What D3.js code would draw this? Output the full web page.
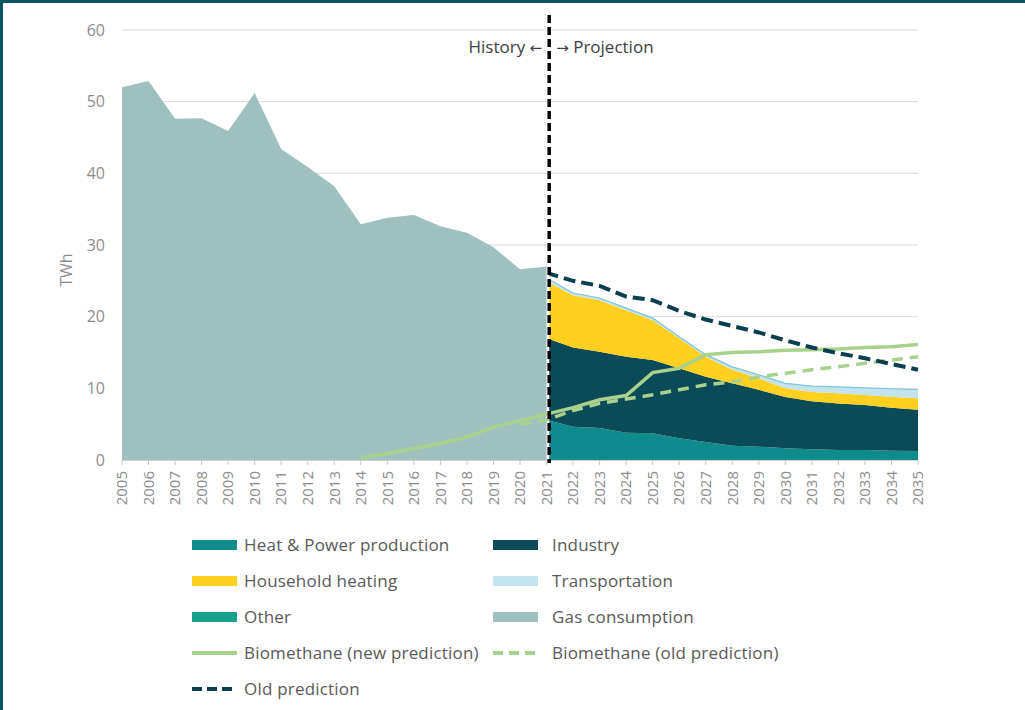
<!DOCTYPE html>
<html><head><meta charset="utf-8">
<script src="https://cdn.jsdelivr.net/npm/d3@7"></script>
<style>
html,body{margin:0;padding:0;background:#fff;}
svg{display:block;font-family:"Open Sans",sans-serif;}
</style></head>
<body><svg id="c" width="1025" height="710"></svg>
<script>
// ---- data ----
const histYears = [2005,2006,2007,2008,2009,2010,2011,2012,2013,2014,2015,2016,2017,2018,2019,2020,2021];
const gasConsumption = [52.0,52.9,47.6,47.7,45.9,51.2,43.4,40.9,38.2,32.9,33.8,34.2,32.6,31.7,29.7,26.6,27.0];

const projYears = [2021,2022,2023,2024,2025,2026,2027,2028,2029,2030,2031,2032,2033,2034,2035];
const heatPower = [5.6,4.65,4.45,3.8,3.75,3.05,2.5,2.0,1.86,1.63,1.5,1.4,1.4,1.3,1.25];
const other = [0,0,0,0,0,0,0,0,0,0,0,0,0,0,0];
const industry = [11.4,11.05,10.65,10.6,10.2,9.75,9.1,8.7,7.94,7.17,6.7,6.5,6.27,6.0,5.75];
const household = [7.9,7.3,7.2,6.5,5.55,4.2,2.8,1.9,1.6,1.2,1.3,1.4,1.4,1.54,1.6];
const transport = [0.5,0.3,0.3,0.3,0.3,0.2,0.3,0.4,0.5,0.7,0.8,0.9,1.0,1.1,1.2];

const bioNewYears = [2014,2015,2016,2017,2018,2019,2020,2021,2022,2023,2024,2025,2026,2027,2028,2029,2030,2031,2032,2033,2034,2035];
const bioNew = [0.3,0.9,1.6,2.3,3.2,4.6,5.5,6.4,7.3,8.4,9.0,12.2,12.8,14.7,15.0,15.1,15.3,15.4,15.5,15.7,15.8,16.1];
const bioOldYears = [2020,2021,2022,2023,2024,2025,2026,2027,2028,2029,2030,2031,2032,2033,2034,2035];
const bioOld = [5.0,5.6,6.9,7.9,8.5,9.1,9.8,10.5,10.9,11.6,12.1,12.6,13.0,13.5,13.95,14.4];
const oldPrediction = [26.1,25.0,24.3,22.8,22.3,20.8,19.6,18.7,17.8,16.7,15.7,14.9,14.2,13.4,12.6];

const yTicks = [0,10,20,30,40,50,60];
const xTickYears = d3.range(2005,2036);
const dividerYear = 2021.1;
const historyLabel = ["History ", "←"];
const projectionLabel = ["→", " Projection"];
const yLabel = "TWh";

const stackKeys = ["heatPower","other","industry","household","transport"];
const stackSeries = {heatPower, other, industry, household, transport};
const colors = {
  heatPower:"#0f8b8d", industry:"#0b4a57", household:"#ffd01f", transport:"#c3e3ef",
  other:"#17a08a", gas:"#a0c0c0", bio:"#a9d18e", oldPred:"#0b3f50"
};
const legendItems = [
  {label:"Heat & Power production", type:"rect", color:colors.heatPower},
  {label:"Industry", type:"rect", color:colors.industry},
  {label:"Household heating", type:"rect", color:colors.household},
  {label:"Transportation", type:"rect", color:colors.transport},
  {label:"Other", type:"rect", color:colors.other},
  {label:"Gas consumption", type:"rect", color:colors.gas},
  {label:"Biomethane (new prediction)", type:"line", color:colors.bio, dash:null},
  {label:"Biomethane (old prediction)", type:"line", color:colors.bio, dash:"10,6"},
  {label:"Old prediction", type:"line", color:colors.oldPred, dash:"10,5"}
];

// ---- chart ----
const svg = d3.select("#c");
const x = d3.scaleLinear().domain([2005,2035]).range([122,918]);
const y = d3.scaleLinear().domain([0,60]).range([460,30]);

// frame
svg.append("rect").attr("x",0).attr("y",0).attr("width",1025).attr("height",3).attr("fill","#0b5563");
svg.append("rect").attr("x",0).attr("y",0).attr("width",3).attr("height",710).attr("fill","#0b5563");

// gridlines
svg.append("g").selectAll("line").data(yTicks.filter(d=>d>0)).join("line")
  .attr("x1",x(2005)).attr("x2",x(2035)).attr("y1",d=>y(d)).attr("y2",d=>y(d))
  .attr("stroke","#d9d9d9").attr("stroke-width",1);

// y axis labels
svg.append("g").selectAll("text").data(yTicks).join("text")
  .attr("x",105).attr("y",d=>y(d)).attr("dy","0.35em").attr("text-anchor","end")
  .attr("font-size",16).attr("fill","#8c8c8c").text(d=>d);
svg.append("text").attr("transform",`translate(66,${y(26.5)}) rotate(-90)`)
  .attr("text-anchor","middle").attr("dy","0.35em").attr("font-size",16).attr("fill","#8c8c8c").text(yLabel);

// clips
const defs = svg.append("defs");
defs.append("clipPath").attr("id","projClip").append("rect")
  .attr("x",x(dividerYear)).attr("y",0).attr("width",x(2035)-x(dividerYear)+2).attr("height",470);

// gas consumption
const gasData = histYears.map((yr,i)=>({yr,v:gasConsumption[i]}));
svg.append("path").datum(gasData)
  .attr("d",d3.area().x(d=>x(d.yr)).y0(y(0)).y1(d=>y(d.v)))
  .attr("fill",colors.gas);

// stacked projection
const projRows = projYears.map((yr,i)=>{const r={yr}; stackKeys.forEach(k=>r[k]=stackSeries[k][i]); return r;});
const stacked = d3.stack().keys(stackKeys)(projRows);
const gProj = svg.append("g").attr("clip-path","url(#projClip)");
gProj.selectAll("path.area").data(stacked).join("path").attr("class","area")
  .attr("d",d3.area().x(d=>x(d.data.yr)).y0(d=>y(d[0])).y1(d=>y(d[1])))
  .attr("fill",d=>colors[d.key]);
const topS = stacked[stacked.length-1];
gProj.append("path").datum(topS)
  .attr("d",d3.line().x(d=>x(d.data.yr)).y(d=>y(d[1])))
  .attr("fill","none").attr("stroke","#7cc6d6").attr("stroke-width",1.2);

// x axis
svg.append("line").attr("x1",x(2005)).attr("x2",x(2035)).attr("y1",y(0)+0.5).attr("y2",y(0)+0.5)
  .attr("stroke","#d0d0d0");
svg.append("g").selectAll("line").data(xTickYears).join("line")
  .attr("x1",d=>x(d)).attr("x2",d=>x(d)).attr("y1",y(0)).attr("y2",y(0)+5)
  .attr("stroke","#c8c8c8");
svg.append("g").selectAll("text").data(xTickYears).join("text")
  .attr("transform",d=>`translate(${x(d)},${y(0)+11}) rotate(-90)`)
  .attr("text-anchor","end").attr("dy","0.35em").attr("font-size",15).attr("fill","#8c8c8c").text(d=>d);

// biomethane lines
svg.append("path").datum(bioOldYears.map((yr,i)=>({yr,v:bioOld[i]})))
  .attr("d",d3.line().x(d=>x(d.yr)).y(d=>y(d.v)))
  .attr("fill","none").attr("stroke",colors.bio).attr("stroke-width",3.5).attr("stroke-dasharray","11,7");
svg.append("path").datum(bioNewYears.map((yr,i)=>({yr,v:bioNew[i]})))
  .attr("d",d3.line().x(d=>x(d.yr)).y(d=>y(d.v)))
  .attr("fill","none").attr("stroke",colors.bio).attr("stroke-width",3.5);

// old prediction
svg.append("g").attr("clip-path","url(#projClip)").append("path")
  .datum(projYears.map((yr,i)=>({yr,v:oldPrediction[i]})))
  .attr("d",d3.line().x(d=>x(d.yr)).y(d=>y(d.v)))
  .attr("fill","none").attr("stroke",colors.oldPred).attr("stroke-width",4).attr("stroke-dasharray","12,6");

// divider
svg.append("line").attr("x1",x(dividerYear)).attr("x2",x(dividerYear)).attr("y1",15).attr("y2",463)
  .attr("stroke","#000").attr("stroke-width",3.5).attr("stroke-dasharray","8,4");
const th = svg.append("text").attr("x",x(dividerYear)-7).attr("y",47).attr("dy","0.35em").attr("text-anchor","end")
  .attr("font-size",17).attr("fill","#404040");
th.append("tspan").text(historyLabel[0]);
th.append("tspan").attr("font-family","DejaVu Sans").attr("font-size",15).text(historyLabel[1]);
const tp = svg.append("text").attr("x",x(dividerYear)+7).attr("y",47).attr("dy","0.35em").attr("text-anchor","start")
  .attr("font-size",17).attr("fill","#404040");
tp.append("tspan").attr("font-family","DejaVu Sans").attr("font-size",15).text(projectionLabel[0]);
tp.append("tspan").text(projectionLabel[1]);

// legend
const colX = [192,493], rowY0 = 545, rowH = 36;
const lg = svg.append("g").selectAll("g").data(legendItems).join("g")
  .attr("transform",(d,i)=>`translate(${colX[i%2]},${rowY0+Math.floor(i/2)*rowH})`);
lg.filter(d=>d.type==="rect").append("rect").attr("x",0).attr("y",-5).attr("width",45).attr("height",10).attr("fill",d=>d.color);
lg.filter(d=>d.type==="line").append("line").attr("x1",0).attr("x2",45).attr("y1",0).attr("y2",0)
  .attr("stroke",d=>d.color).attr("stroke-width",4).attr("stroke-dasharray",d=>d.dash);
lg.append("text").attr("x",(d,i)=>i%2===0?52:59).attr("dy","0.35em").attr("font-size",17)
  .attr("letter-spacing",0.2).attr("fill","#595959").text(d=>d.label);
</script></body></html>
